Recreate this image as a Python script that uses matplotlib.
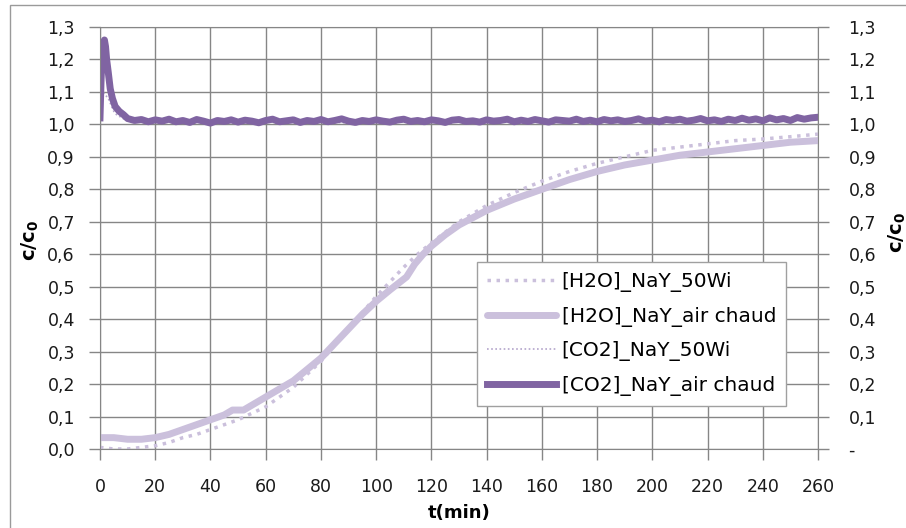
import matplotlib.pyplot as plt
from matplotlib.patches import Rectangle
from matplotlib.ticker import FuncFormatter, MultipleLocator

# --- data ---
h2o_50wi_t = [0, 5, 10, 15, 20, 25, 30, 35, 40, 45, 50, 55, 60, 65, 70, 75, 80, 85, 90,
              95, 100, 105, 110, 115, 120, 130, 140, 150, 160, 170, 180, 190, 200, 210,
              220, 230, 240, 250, 260]
h2o_50wi = [0.005, 0.0, 0.0, 0.005, 0.01, 0.02, 0.035, 0.045, 0.06, 0.075, 0.09, 0.11, 0.13,
            0.16, 0.19, 0.23, 0.27, 0.32, 0.37, 0.42, 0.47, 0.515, 0.56, 0.6, 0.635, 0.7,
            0.75, 0.79, 0.825, 0.855, 0.88, 0.9, 0.92, 0.93, 0.94, 0.95, 0.955, 0.962, 0.97]

h2o_air_t = [0, 5, 10, 15, 20, 25, 30, 35, 40, 45, 48, 52, 55, 60, 65, 70, 75, 80, 85, 90,
             95, 100, 105, 108, 111, 114, 117, 120, 125, 130, 140, 150, 160, 170, 180, 190,
             200, 210, 220, 230, 240, 250, 260]
h2o_air = [0.035, 0.035, 0.03, 0.03, 0.035, 0.045, 0.06, 0.075, 0.09, 0.105, 0.12, 0.12,
           0.135, 0.16, 0.185, 0.21, 0.245, 0.28, 0.325, 0.37, 0.415, 0.455, 0.49, 0.51,
           0.53, 0.57, 0.6, 0.625, 0.66, 0.69, 0.735, 0.77, 0.8, 0.83, 0.855, 0.875, 0.89,
           0.905, 0.915, 0.925, 0.935, 0.945, 0.95]

co2_50wi_t = [0, 1, 2, 3, 4, 5, 6, 8, 10, 30, 60, 90, 120, 150, 180, 210, 240, 260]
co2_50wi = [1.0, 1.1, 1.09, 1.08, 1.06, 1.04, 1.03, 1.02, 1.01, 1.01, 1.01, 1.005, 1.01,
            1.01, 1.01, 1.015, 1.015, 1.02]

co2_air_t = [0, 0.4, 0.8, 1.2, 1.6, 2.0, 2.4, 3.0, 3.7, 4.5, 5.5, 7, 8.5,
             10, 12.5, 15, 17.5, 20, 22.5, 25, 27.5, 30, 32.5,
             35, 37.5, 40, 42.5, 45, 47.5, 50, 52.5, 55, 57.5,
             60, 62.5, 65, 67.5, 70, 72.5, 75, 77.5, 80, 82.5,
             85, 87.5, 90, 92.5, 95, 97.5, 100, 102.5, 105, 107.5,
             110, 112.5, 115, 117.5, 120, 122.5, 125, 127.5, 130, 132.5,
             135, 137.5, 140, 142.5, 145, 147.5, 150, 152.5, 155, 157.5,
             160, 162.5, 165, 167.5, 170, 172.5, 175, 177.5, 180, 182.5,
             185, 187.5, 190, 192.5, 195, 197.5, 200, 202.5, 205, 207.5,
             210, 212.5, 215, 217.5, 220, 222.5, 225, 227.5, 230, 232.5,
             235, 237.5, 240, 242.5, 245, 247.5, 250, 252.5, 255, 257.5,
             260]
co2_air = [1.02, 1.14, 1.22, 1.25, 1.26, 1.24, 1.2, 1.16, 1.11, 1.08, 1.055, 1.04, 1.03,
           1.018, 1.012, 1.015, 1.008, 1.014, 1.01, 1.016, 1.008, 1.012, 1.006,
           1.015, 1.01, 1.004, 1.012, 1.009, 1.014, 1.007, 1.013, 1.01, 1.005,
           1.012, 1.016, 1.008, 1.011, 1.014, 1.006, 1.012, 1.009, 1.015, 1.008,
           1.012, 1.017, 1.01, 1.006, 1.012, 1.009, 1.014, 1.01, 1.007, 1.013,
           1.016, 1.009, 1.012, 1.008, 1.014, 1.011, 1.006, 1.013, 1.015, 1.009,
           1.011, 1.007, 1.014, 1.01, 1.012, 1.016, 1.008, 1.013, 1.009, 1.015,
           1.011, 1.007, 1.014, 1.012, 1.01, 1.016, 1.009, 1.013, 1.008, 1.015,
           1.011, 1.014, 1.009, 1.012, 1.017, 1.01, 1.013, 1.008, 1.015, 1.012,
           1.016, 1.01, 1.013, 1.018, 1.011, 1.014, 1.009, 1.016, 1.012, 1.019,
           1.013, 1.017, 1.011, 1.02, 1.014, 1.018, 1.012, 1.021, 1.016, 1.02,
           1.022]

labels = ['[H2O]_NaY_50Wi', '[H2O]_NaY_air chaud', '[CO2]_NaY_50Wi', '[CO2]_NaY_air chaud']

light = '#cbc0dc'
dark = '#8064a2'
grid_c = '#868686'


def comma(v, pos):
    return f'{v:.1f}'.replace('.', ',')


def comma_dash(v, pos):
    if abs(v) < 1e-9:
        return '-'
    return f'{v:.1f}'.replace('.', ',')


fig = plt.figure(figsize=(9.06, 5.28), dpi=100)
ax = fig.add_axes([100 / 906, 1 - 449 / 528, 718 / 906, 422 / 528])

# outer chart frame (runs off the right and bottom edges)
fig.patches.append(Rectangle((10 / 906, -0.05), 1.1, 1.05 - 5 / 528,
                             transform=fig.transFigure, fill=False, ec='#9a9a9a', lw=1))

ax.plot(h2o_50wi_t, h2o_50wi, color=light, lw=2.5, ls=(0, (1, 1.6)), label=labels[0])
ax.plot(h2o_air_t, h2o_air, color=light, lw=5, solid_capstyle='round', label=labels[1])
ax.plot(co2_50wi_t, co2_50wi, color='#b3a4cb', lw=1.2, ls=(0, (1, 1.5)), label=labels[2])
ax.plot(co2_air_t, co2_air, color=dark, lw=5, label=labels[3])

ax.set_xlim(0, 260)
ax.set_ylim(0, 1.3)
ax.xaxis.set_major_locator(MultipleLocator(20))
ax.yaxis.set_major_locator(MultipleLocator(0.1))
ax.yaxis.set_major_formatter(FuncFormatter(comma))
ax.grid(True, color=grid_c, lw=1)
ax.set_axisbelow(True)
for s in ax.spines.values():
    s.set_color(grid_c)
ax.tick_params(colors=grid_c, labelcolor='#1a1a1a', labelsize=12.5, length=8, width=1)
ax.tick_params(axis='y', pad=10)
ax.tick_params(axis='x', pad=13)

ax2 = ax.twinx()
ax2.set_ylim(0, 1.3)
ax2.yaxis.set_major_locator(MultipleLocator(0.1))
ax2.yaxis.set_major_formatter(FuncFormatter(comma_dash))
ax2.tick_params(colors=grid_c, labelcolor='#1a1a1a', labelsize=12.5, length=8, width=1, pad=14)
for s in ax2.spines.values():
    s.set_visible(False)

ax.set_xlabel('t(min)', fontsize=13, fontweight='bold', labelpad=6)
fig.text(30 / 906, 1 - 240 / 528, 'c/c$_\\mathbf{0}$', rotation=90, fontsize=14,
         fontweight='bold', ha='center', va='center')
fig.text(897 / 906, 1 - 232 / 528, 'c/c$_\\mathbf{0}$', rotation=90, fontsize=14,
         fontweight='bold', ha='center', va='center')

leg = ax.legend(loc='upper left', bbox_to_anchor=(477 / 906, 1 - 262 / 528),
                bbox_transform=fig.transFigure, fontsize=14.5, frameon=True, fancybox=False,
                framealpha=1, edgecolor='#a0a0a0', handlelength=3.4, borderpad=0.5,
                labelspacing=0.72, handletextpad=0.3, borderaxespad=0)
leg.get_frame().set_linewidth(1)

fig.savefig('out.png', dpi=100)
